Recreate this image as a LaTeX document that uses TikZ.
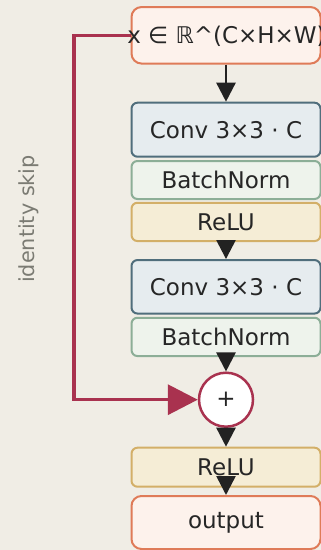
\documentclass[tikz,border=0pt]{standalone}
\usepackage{fontspec}
\setmainfont{DejaVu Sans}
\usetikzlibrary{arrows.meta}
\definecolor{bgc}{HTML}{F0EDE5}
\definecolor{convfill}{HTML}{E6ECEF}
\definecolor{convdraw}{HTML}{506E7C}
\definecolor{bnfill}{HTML}{EEF3EC}
\definecolor{bndraw}{HTML}{8CAE97}
\definecolor{relufill}{HTML}{F5EDD6}
\definecolor{reludraw}{HTML}{D3AF68}
\definecolor{iofill}{HTML}{FDF2EC}
\definecolor{iodraw}{HTML}{DF7B58}
\definecolor{skipc}{HTML}{A9324F}
\definecolor{arrc}{HTML}{222222}
\definecolor{txtc}{HTML}{262626}
\definecolor{lblc}{HTML}{7B7B73}
\tikzset{
  box/.style={rectangle, rounded corners=6pt, line width=2pt, minimum width=189pt, inner sep=0pt, text=txtc, font=\fontsize{23}{27}\selectfont},
  convbox/.style={box, fill=convfill, draw=convdraw},
  bnbox/.style={box, fill=bnfill, draw=bndraw},
  relubox/.style={box, fill=relufill, draw=reludraw},
  iobox/.style={box, rounded corners=10pt, fill=iofill, draw=iodraw},
  boxtext/.style={inner sep=0pt, text=txtc, font=\fontsize{23}{27}\selectfont},
  arr/.style={draw=arrc, line width=2.5pt, -{Triangle[length=19pt,width=19pt]}},
  skiparr/.style={draw=skipc, line width=3.5pt, -{Triangle[length=30pt,width=30pt]}},
}
\begin{document}
\begin{tikzpicture}[x=1pt,y=-1pt]
\fill[bgc] (0,0) rectangle (321,550);
\useasboundingbox (0,0) rectangle (321,550);
\node[iobox, minimum height=56.5pt] (in) at (226,35.3) {};
\node[boxtext] (intxt) at (226.5,36) {x ∈ ℝ\textasciicircum(C×H×W)};
\node[convbox, minimum height=54pt] (conv1) at (226,129.7) {Conv 3×3 · C};
\node[bnbox, minimum height=38pt] (bn1) at (226,180) {BatchNorm};
\node[relubox, minimum height=38.3pt] (relu1) at (226,221.9) {ReLU};
\node[convbox, minimum height=53.5pt] (conv2) at (226,286.8) {Conv 3×3 · C};
\node[bnbox, minimum height=38.3pt] (bn2) at (226,336.9) {BatchNorm};
\node[circle, draw=skipc, fill=white, line width=2.5pt, minimum size=54pt, inner sep=0pt, text=txtc, font=\fontsize{23}{27}\selectfont] (plus) at (226,399.7) {+};
\node[relubox, minimum height=39pt] (relu2) at (226,467.2) {ReLU};
\node[iobox, minimum height=53pt] (out) at (226,522.5) {output};
\node[rotate=90, text=lblc, font=\fontsize{20.8}{25}\selectfont, inner sep=0pt] (lbl) at (29,219) {identity skip};
\coordinate (sk) at (74,399.7);
\draw[arr] (in.south) -- (conv1.north);
\draw[arr] (relu1.south) -- (conv2.north);
\draw[arr] (bn2.south) -- (plus.north);
\draw[arr] (plus.south) -- (relu2.north);
\draw[arr] (relu2.south) -- (out.north);
\draw[skiparr] (in.west) -| (sk) -- (plus.west);
\end{tikzpicture}
\end{document}
